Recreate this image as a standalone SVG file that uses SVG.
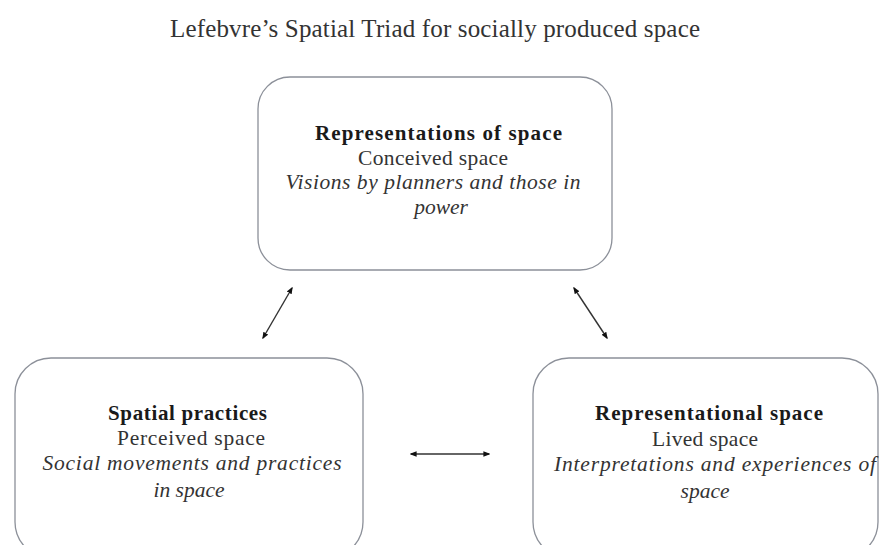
<svg xmlns="http://www.w3.org/2000/svg" width="882" height="545" viewBox="0 0 882 545">
<style>
text{font-family:"Liberation Serif","Times New Roman",serif;fill:#2a2a2a;text-anchor:middle}
.t{font-size:25px;fill:#333}
.h{font-size:21px;font-weight:bold;fill:#1a1a1a}
.n{font-size:21.5px;fill:#333}
.i{font-size:21.5px;font-style:italic;fill:#333}
.box{fill:#fff;stroke:#8c9099;stroke-width:1.3}
.con{stroke:#333;stroke-width:1.4;fill:none;marker-start:url(#ah);marker-end:url(#ah)}
</style>
<defs>
<marker id="ah" viewBox="0 0 10 10" refX="8" refY="5" markerWidth="5" markerHeight="5" orient="auto-start-reverse" markerUnits="strokeWidth">
<path d="M0,1 L10,5 L0,9 z" fill="#111"/>
</marker>
</defs>
<rect width="882" height="545" fill="#fff"/>
<text class="t" x="435" y="37" textLength="530" lengthAdjust="spacing">Lefebvre’s Spatial Triad for socially produced space</text>
<g id="conceived">
<rect class="box" x="258" y="77" width="354" height="193" rx="32"/>
<text class="h" x="438.5" y="140" textLength="247" lengthAdjust="spacing">Representations of space</text>
<text class="n" x="433" y="165" textLength="150" lengthAdjust="spacing">Conceived space</text>
<text class="i" x="433" y="189" textLength="295" lengthAdjust="spacing">Visions by planners and those in</text>
<text class="i" x="441" y="214">power</text>
</g>
<g id="perceived">
<rect class="box" x="15" y="358" width="348" height="200" rx="36"/>
<text class="h" x="187.5" y="420" textLength="159" lengthAdjust="spacing">Spatial practices</text>
<text class="n" x="191" y="445" textLength="148" lengthAdjust="spacing">Perceived space</text>
<text class="i" x="192" y="470" textLength="299" lengthAdjust="spacing">Social movements and practices</text>
<text class="i" x="189" y="497">in space</text>
</g>
<g id="lived">
<rect class="box" x="533" y="358" width="345" height="200" rx="36"/>
<text class="h" x="709" y="420" textLength="228" lengthAdjust="spacing">Representational space</text>
<text class="n" x="705" y="446" textLength="106" lengthAdjust="spacing">Lived space</text>
<text class="i" x="715" y="471" textLength="322" lengthAdjust="spacing">Interpretations and experiences of</text>
<text class="i" x="705" y="498">space</text>
</g>
<g id="connectors">
<line class="con" x1="292" y1="288" x2="263" y2="338"/>
<line class="con" x1="574" y1="288" x2="607" y2="338"/>
<line class="con" x1="411" y1="454" x2="489" y2="454"/>
</g>
</svg>
